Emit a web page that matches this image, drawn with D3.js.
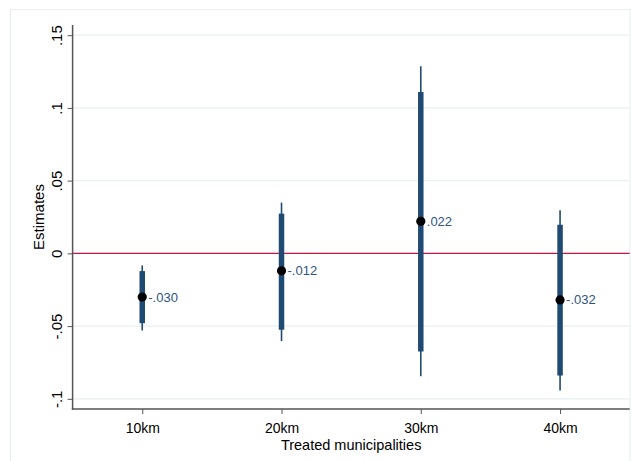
<!DOCTYPE html>
<html>
<head>
<meta charset="utf-8">
<script src="https://cdn.jsdelivr.net/npm/d3@7"></script>
<style>
  html, body { margin: 0; padding: 0; background: #fff; }
  svg { display: block; font-family: "Liberation Sans", Arial, sans-serif; }
</style>
</head>
<body>
<svg id="chart" width="631" height="461"></svg>
<script>
// Point estimates with 90% (thick) and 95% (thin) confidence intervals
const categories = ["10km", "20km", "30km", "40km"];
const estimates  = [-0.030, -0.012, 0.022, -0.032];
const ci90Low    = [-0.048, -0.0525, -0.0674, -0.0839];
const ci90High   = [-0.0122, 0.0273, 0.111, 0.0197];
const ci95Low    = [-0.053, -0.0603, -0.0844, -0.0942];
const ci95High   = [-0.0083, 0.0349, 0.1286, 0.0296];
const yTicks     = [-0.1, -0.05, 0, 0.05, 0.1, 0.15];
const yTickLabels = ["-.1", "-.05", "0", ".05", ".1", ".15"];
const xTitle = "Treated municipalities";
const yTitle = "Estimates";

const svg = d3.select("#chart");
const plot = { left: 72.6, right: 629.7, top: 25, bottom: 409 };

const x = d3.scaleLinear().domain([0.5, categories.length + 0.5]).range([plot.left, plot.right]);
const y = d3.scaleLinear().domain([-0.107, 0.157]).range([plot.bottom, plot.top]);

// outer frame (only left and top edges fall inside the canvas)
svg.append("rect")
  .attr("x", 10.5).attr("y", 9.5)
  .attr("width", 619.5).attr("height", 470)
  .attr("fill", "none").attr("stroke", "#e6eeef").attr("stroke-width", 1);

// horizontal grid lines
svg.append("g").selectAll("line").data(yTicks.filter(d => d !== 0)).join("line")
  .attr("x1", plot.left).attr("x2", plot.right)
  .attr("y1", d => y(d)).attr("y2", d => y(d))
  .attr("stroke", "#e8f0f1").attr("stroke-width", 1.2);

// zero reference line
svg.append("line")
  .attr("x1", plot.left).attr("x2", plot.right)
  .attr("y1", y(0)).attr("y2", y(0))
  .attr("stroke", "#c4163f").attr("stroke-width", 1.4);

// y axis
const yAxis = d3.axisLeft(y).tickValues(yTicks).tickSize(5).tickFormat((d, i) => yTickLabels[i]);
const gy = svg.append("g").attr("transform", `translate(${plot.left},0)`).call(yAxis);
gy.select(".domain").remove();
gy.selectAll(".tick line").attr("stroke", "#555").attr("stroke-width", 1);
gy.selectAll(".tick text")
  .attr("x", null).attr("dy", null)
  .attr("transform", "translate(-11,0) rotate(-90)")
  .attr("text-anchor", "middle")
  .attr("font-size", 15).attr("fill", "#000")
  .attr("font-family", "Liberation Sans, Arial, sans-serif");

// x axis
const xAxis = d3.axisBottom(x).tickValues(d3.range(1, categories.length + 1))
  .tickSize(5).tickFormat((d) => categories[d - 1]);
const gx = svg.append("g").attr("transform", `translate(0,${plot.bottom})`).call(xAxis);
gx.select(".domain").remove();
gx.selectAll(".tick line").attr("stroke", "#555").attr("stroke-width", 1);
gx.selectAll(".tick text")
  .attr("y", 24).attr("dy", null)
  .attr("font-size", 14).attr("fill", "#000")
  .attr("font-family", "Liberation Sans, Arial, sans-serif");

// axis lines
svg.append("line")
  .attr("x1", plot.left).attr("x2", plot.left)
  .attr("y1", plot.top).attr("y2", plot.bottom + 0.75)
  .attr("stroke", "#555").attr("stroke-width", 1.5);
svg.append("line")
  .attr("x1", plot.left - 0.75).attr("x2", plot.right)
  .attr("y1", plot.bottom).attr("y2", plot.bottom)
  .attr("stroke", "#555").attr("stroke-width", 1.5);

// axis titles
svg.append("text")
  .attr("transform", `translate(43.5,${(plot.top + plot.bottom) / 2}) rotate(-90)`)
  .attr("text-anchor", "middle").attr("font-size", 15).attr("fill", "#000")
  .text(yTitle);
svg.append("text")
  .attr("x", (plot.left + plot.right) / 2).attr("y", 450)
  .attr("text-anchor", "middle").attr("font-size", 14.5).attr("fill", "#000")
  .text(xTitle);

const idx = d3.range(categories.length);
const navy = "#1f4a73";

// 95% intervals (thin)
svg.append("g").selectAll("line").data(idx).join("line")
  .attr("x1", i => x(i + 1)).attr("x2", i => x(i + 1))
  .attr("y1", i => y(ci95Low[i])).attr("y2", i => y(ci95High[i]))
  .attr("stroke", navy).attr("stroke-width", 1.6);

// 90% intervals (thick)
svg.append("g").selectAll("line").data(idx).join("line")
  .attr("x1", i => x(i + 1)).attr("x2", i => x(i + 1))
  .attr("y1", i => y(ci90Low[i])).attr("y2", i => y(ci90High[i]))
  .attr("stroke", navy).attr("stroke-width", 5.5);

// point estimates
svg.append("g").selectAll("circle").data(idx).join("circle")
  .attr("cx", i => x(i + 1)).attr("cy", i => y(estimates[i]))
  .attr("r", 4.6).attr("fill", "#000");

// value labels
const fmt = v => (v < 0 ? "-" : "") + d3.format(".3f")(Math.abs(v)).replace(/^0/, "");
svg.append("g").selectAll("text").data(idx).join("text")
  .attr("x", i => x(i + 1) + 6).attr("y", i => y(estimates[i]))
  .attr("dy", "0.35em")
  .attr("font-size", 13).attr("fill", "#2e5480")
  .text(i => fmt(estimates[i]));
</script>
</body>
</html>
